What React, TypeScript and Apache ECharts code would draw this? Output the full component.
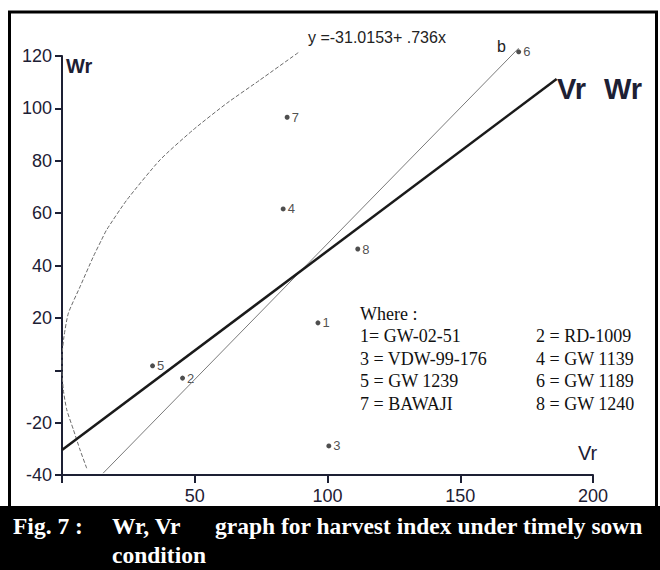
import React, { useEffect, useRef } from "react";
import * as echarts from "echarts";

// Genotype points (Vr, Wr)
const genotypeIds = ["1", "2", "3", "4", "5", "6", "7", "8"];
const vrValues = [96.4, 45.4, 100.5, 83.3, 34.1, 172, 84.8, 111.4];
const wrValues = [18.1, -3.0, -28.9, 61.6, 1.7, 121.6, 96.6, 46.3];

// Regression line y = -31.0153 + .736x (endpoints as drawn)
const regressionVr = [0, 186.3];
const regressionWr = [-30.5, 111.2];

// Unit-slope line "b"
const unitLineVr = [15.5, 172];
const unitLineWr = [-39.3, 123];

// Limiting parabola (dashed)
const parabolaVr = [9.3, 6.8, 4.3, 1.8, 0.5, 0, 0, 0.75, 2.4, 6.8, 11.8, 14.9, 16.8, 24.4, 36.9, 49.4, 62, 74.5, 89];
const parabolaWr = [-37.4, -30.4, -22.7, -15.1, -7.5, 0.2, 5.2, 12.9, 21.8, 31.9, 43.4, 49.8, 53.6, 65.0, 80.3, 91.8, 101.9, 110.8, 121.3];

// Tick labels
const xTickLabels = ["50", "100", "150", "200"];
const yTickLabels = ["-40", "-20", "20", "40", "60", "80", "100", "120"];

const legendLeft = ["1= GW-02-51", "3 = VDW-99-176", "5 = GW 1239", "7 = BAWAJI"];
const legendRight = ["2 = RD-1009", "4 = GW 1139", "6 = GW 1189", "8 = GW 1240"];

const NARROW = "'Liberation Sans Narrow', 'Arial Narrow', 'Liberation Sans', Arial, sans-serif";
const SERIF = "'Liberation Serif', 'Times New Roman', serif";
const INK = "#1d2034";

export default function App() {
  const ref = useRef<HTMLDivElement>(null);
  useEffect(() => {
    if (!ref.current) return;
    const chart = echarts.init(ref.current, null, { renderer: "svg" });
    const zip = (a: number[], b: number[]) => a.map((v, i) => [v, b[i]]);
    const legendGraphics: any[] = [];
    legendGraphics.push({
      type: "text", left: 360, top: 305,
      style: { text: "Where :", font: `18px ${SERIF}`, fill: "#111" },
    });
    legendLeft.forEach((t, i) => {
      legendGraphics.push({
        type: "text", left: 360, top: 327 + i * 22.7,
        style: { text: t, font: `18px ${SERIF}`, fill: "#111" },
      });
    });
    legendRight.forEach((t, i) => {
      legendGraphics.push({
        type: "text", left: 536, top: 327 + i * 22.7,
        style: { text: t, font: `18px ${SERIF}`, fill: "#111" },
      });
    });
    chart.setOption({
      animation: false,
      backgroundColor: "#ffffff",
      grid: { left: 62, right: 67, top: 56, bottom: 95 },
      xAxis: {
        type: "value",
        min: 0,
        max: 200,
        interval: 50,
        splitLine: { show: false },
        axisLine: { onZero: false, lineStyle: { color: INK, width: 2 } },
        axisTick: { show: true, length: 8, lineStyle: { color: INK, width: 2 } },
        axisLabel: {
          margin: 12,
          color: INK,
          fontSize: 18,
          fontFamily: NARROW,
          formatter: (v: number) => {
            const s = String(v);
            return xTickLabels.includes(s) ? s : "";
          },
        },
      },
      yAxis: {
        type: "value",
        min: -40,
        max: 120,
        interval: 20,
        splitLine: { show: false },
        axisLine: { onZero: false, lineStyle: { color: INK, width: 2 } },
        axisTick: { show: true, length: 7, lineStyle: { color: INK, width: 2 } },
        axisLabel: {
          margin: 10,
          color: INK,
          fontSize: 18,
          fontFamily: NARROW,
          formatter: (v: number) => {
            const s = String(v);
            return yTickLabels.includes(s) ? s : "";
          },
        },
      },
      series: [
        {
          type: "line",
          data: zip(parabolaVr, parabolaWr),
          smooth: 0.2,
          symbol: "none",
          clip: false,
          lineStyle: { color: "#6a6a6a", width: 1, type: [4, 2] },
        },
        {
          type: "line",
          data: zip(unitLineVr, unitLineWr),
          symbol: "none",
          clip: false,
          lineStyle: { color: "#7a7a7a", width: 1 },
        },
        {
          type: "line",
          data: zip(regressionVr, regressionWr),
          symbol: "none",
          clip: false,
          lineStyle: { color: "#1a1a1a", width: 2.5 },
        },
        {
          type: "scatter",
          clip: false,
          symbolSize: 5,
          itemStyle: { color: "#222" },
          data: genotypeIds.map((id, i) => ({ name: id, value: [vrValues[i], wrValues[i]] })),
          label: {
            show: true,
            position: "right",
            distance: 2,
            formatter: (p: any) => p.name,
            fontSize: 13,
            fontFamily: NARROW,
            color: "#222",
          },
        },
      ],
      graphic: [
        { type: "rect", shape: { x: 9.5, y: 12, width: 647, height: 496 }, style: { fill: "none", stroke: "#000", lineWidth: 3 } },
        { type: "rect", shape: { x: 0, y: 506, width: 660, height: 64 }, style: { fill: "#000" } },
        { type: "text", left: 13, top: 514, style: { text: "Fig. 7 :", font: `bold 23.5px ${SERIF}`, fill: "#fff" } },
        { type: "text", left: 112, top: 514, style: { text: "Wr, Vr", font: `bold 23.5px ${SERIF}`, fill: "#fff" } },
        { type: "text", left: 215, top: 514, style: { text: "graph for harvest index under timely sown", font: `bold 23.5px ${SERIF}`, fill: "#fff" } },
        { type: "text", left: 112, top: 543, style: { text: "condition", font: `bold 23.5px ${SERIF}`, fill: "#fff" } },
        { type: "text", left: 66, top: 56, style: { text: "Wr", font: `bold 20px ${NARROW}`, fill: INK } },
        { type: "text", left: 578, top: 443, style: { text: "Vr", font: `20px ${NARROW}`, fill: INK } },
        { type: "text", left: 557, top: 74, style: { text: "Vr", font: `bold 29px ${NARROW}`, fill: INK } },
        { type: "text", left: 604, top: 74, style: { text: "Wr", font: `bold 29px ${NARROW}`, fill: INK } },
        { type: "text", left: 308, top: 29, style: { text: "y =-31.0153+ .736x", font: `16px ${NARROW}`, fill: "#222" } },
        { type: "text", left: 497, top: 38, style: { text: "b", font: `16px ${NARROW}`, fill: "#222" } },
        ...legendGraphics,
      ],
    });
    return () => chart.dispose();
  }, []);
  return (
    <div
      ref={ref}
      style={{ position: "fixed", left: 0, top: 0, width: 660, height: 570, background: "#fff" }}
    />
  );
}
